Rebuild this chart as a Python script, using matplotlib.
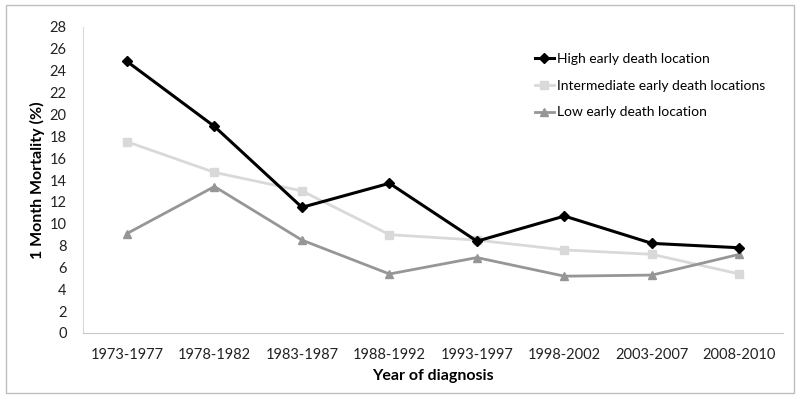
import matplotlib
matplotlib.use("Agg")
import matplotlib.pyplot as plt
from matplotlib.patches import Rectangle

periods = ["1973-1977", "1978-1982", "1983-1987", "1988-1992",
           "1993-1997", "1998-2002", "2003-2007", "2008-2010"]
high = [24.85, 18.9, 11.5, 13.7, 8.4, 10.7, 8.2, 7.8]
intermediate = [17.5, 14.7, 13.0, 9.0, 8.5, 7.6, 7.2, 5.4]
low = [9.1, 13.4, 8.5, 5.4, 6.9, 5.2, 5.3, 7.2]

plt.rcParams['font.family'] = ['Lato', 'DejaVu Sans']

fig = plt.figure(figsize=(8, 4), dpi=100)
ax = fig.add_axes([0.104, 0.1675, 0.875, 0.765])

x = range(len(periods))
ax.plot(x, high, color='black', lw=2.2, marker='D', ms=5, label='High early death location', zorder=3)
ax.plot(x, intermediate, color='#d9d9d9', lw=2, marker='s', ms=6, label='Intermediate early death locations', zorder=2)
ax.plot(x, low, color='#969696', lw=2, marker='^', ms=6, label='Low early death location', zorder=2)

ax.set_xlim(-0.5, len(periods) - 0.5)
ax.set_ylim(0, 28)
ax.set_yticks(range(0, 29, 2))
ax.set_xticks(list(x))
ax.set_xticklabels(periods)
ax.tick_params(length=0, labelsize=10.5, colors='#222222')
ax.tick_params(axis='x', pad=11)
ax.tick_params(axis='y', pad=12)

for s in ['top', 'right']:
    ax.spines[s].set_visible(False)
ax.spines['left'].set_color('#d9d9d9')
ax.spines['bottom'].set_color('#c8c8c8')

ax.set_xlabel('Year of diagnosis', fontsize=11.5, fontweight='bold', labelpad=5)
ax.set_ylabel('1 Month Mortality (%)', fontsize=11.5, fontweight='bold', labelpad=3)

ax.legend(loc='upper left', bbox_to_anchor=(0.627, 0.955), frameon=False,
          fontsize=10, handlelength=1.4, handletextpad=0.2, labelspacing=1.05)

fig.patches.append(Rectangle((0.008, 0.017), 0.984, 0.97, transform=fig.transFigure,
                             fill=False, edgecolor='#bfbfbf', lw=1))

fig.savefig('out.png', dpi=100)
